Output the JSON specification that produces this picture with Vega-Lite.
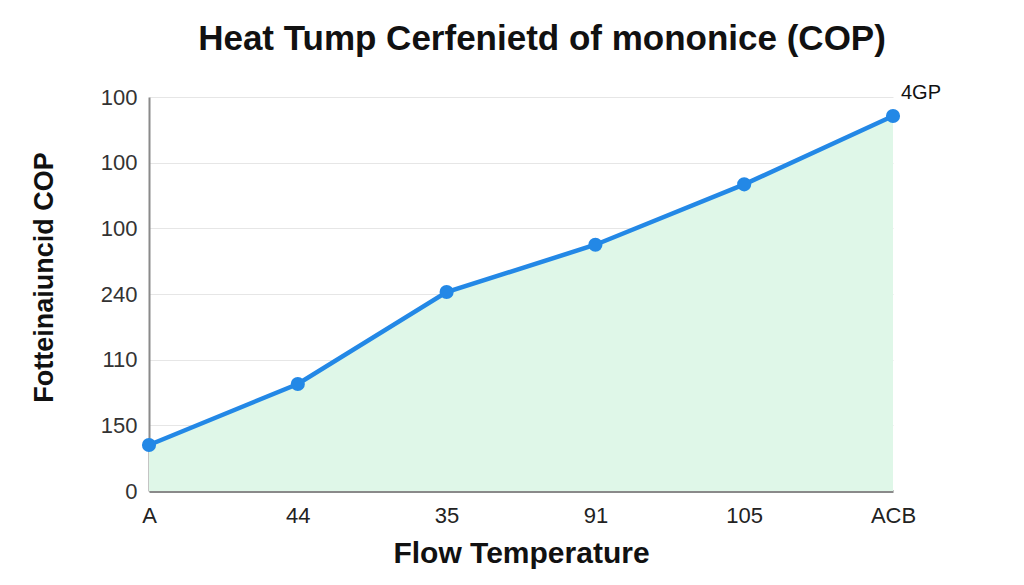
{
  "$schema": "https://vega.github.io/schema/vega-lite/v6.json",
  "width": 744,
  "height": 394,
  "autosize": "none",
  "padding": {"left": 149, "top": 97, "right": 131, "bottom": 94},
  "background": "white",
  "title": {
    "text": "Heat Tump Cerfenietd of mononice (COP)",
    "font": "Liberation Sans",
    "fontSize": 35,
    "fontWeight": "bold",
    "color": "#111111",
    "anchor": "middle",
    "frame": "group",
    "dx": 21,
    "offset": 26
  },
  "data": {
    "values": [
      {"temp": "A", "cop": 0.70, "label": ""},
      {"temp": "44", "cop": 1.63, "label": ""},
      {"temp": "35", "cop": 3.03, "label": ""},
      {"temp": "91", "cop": 3.75, "label": ""},
      {"temp": "105", "cop": 4.67, "label": ""},
      {"temp": "ACB", "cop": 5.71, "label": "4GP"}
    ]
  },
  "encoding": {
    "x": {
      "field": "temp",
      "type": "ordinal",
      "sort": null,
      "scale": {"type": "point", "padding": 0},
      "axis": {
        "title": "Flow Temperature",
        "titleFont": "Liberation Sans",
        "titleFontSize": 30,
        "titleFontWeight": "bold",
        "titleColor": "#111111",
        "titlePadding": 12,
        "labelAngle": 0,
        "labelFont": "Liberation Sans",
        "labelFontSize": 22,
        "labelColor": "#222222",
        "labelPadding": 14,
        "ticks": false,
        "grid": false,
        "domainColor": "#8a8a8a",
        "domainWidth": 3
      }
    },
    "y": {
      "field": "cop",
      "type": "quantitative",
      "scale": {"domain": [0, 6], "nice": false},
      "axis": {
        "title": "Fotteinaiuncid COP",
        "titleFont": "Liberation Sans",
        "titleFontSize": 27,
        "titleFontWeight": "bold",
        "titleColor": "#111111",
        "titlePadding": 42,
        "titleY": 180,
        "values": [0, 1, 2, 3, 4, 5, 6],
        "labelExpr": "datum.value == 0 ? '0' : datum.value == 1 ? '150' : datum.value == 2 ? '110' : datum.value == 3 ? '240' : '100'",
        "labelFont": "Liberation Sans",
        "labelFontSize": 22,
        "labelColor": "#333333",
        "labelPadding": 12,
        "ticks": false,
        "grid": true,
        "gridColor": "#e6e6e6",
        "gridWidth": 1,
        "domainColor": "#8a8a8a",
        "domainWidth": 2
      }
    }
  },
  "layer": [
    {"mark": {"type": "area", "color": "#dff7e8", "opacity": 1}},
    {"mark": {"type": "line", "color": "#2388e6", "strokeWidth": 4.5}},
    {"mark": {"type": "point", "filled": true, "color": "#2388e6", "size": 200, "opacity": 1}},
    {
      "mark": {"type": "text", "align": "left", "baseline": "middle", "dx": 8, "dy": -23, "font": "Liberation Sans", "fontSize": 20, "color": "#111111"},
      "encoding": {"text": {"field": "label"}}
    }
  ],
  "config": {"view": {"stroke": null}}
}
